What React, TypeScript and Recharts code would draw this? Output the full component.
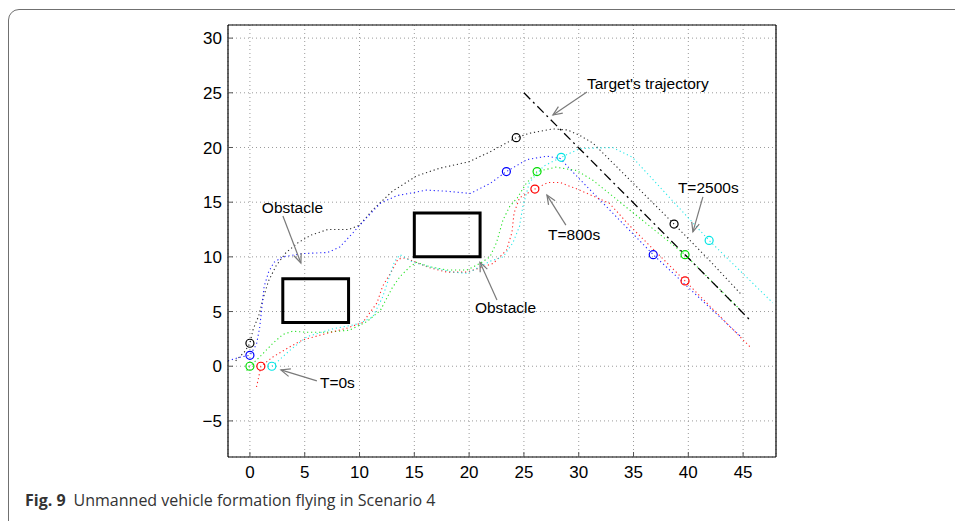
import {
  ComposedChart, Line, Scatter, XAxis, YAxis, CartesianGrid,
  ReferenceArea, ReferenceLine,
} from 'recharts';

type Pt = [number, number];

const X_TICKS = [0, 5, 10, 15, 20, 25, 30, 35, 40, 45];
const Y_TICKS = [-5, 0, 5, 10, 15, 20, 25, 30];

// agent trajectories
const BLACK_PATH: Pt[] = [
  [-1.3, 0.5], [-0.5, 1.3], [0, 2.1], [0.3, 3.4], [0.8, 4.6], [1.2, 6.2], [1.7, 7.8],
  [2.4, 9.2], [3.3, 10.4], [4.4, 11.3], [5.6, 12.0], [7.1, 12.5], [9.0, 12.5], [10.0, 12.9],
  [11.2, 14.3], [13.0, 16.0], [15.2, 17.4], [17.3, 18.1], [20.0, 18.7], [21.9, 19.6],
  [24.3, 20.9], [25.5, 21.3], [27.6, 21.7], [29.0, 21.6], [30.1, 21.1], [31.3, 20.4],
  [32.6, 19.1], [33.8, 17.9], [35.0, 16.7], [38.7, 13.0], [42.0, 9.6], [44.8, 6.6],
];
const BLUE_PATH: Pt[] = [
  [-2.0, 0.5], [-1.0, 0.8], [0, 1.0], [0.6, 2.0], [0.9, 3.6], [1.1, 5.5], [1.3, 7.3],
  [1.7, 8.6], [2.2, 9.5], [3.0, 10.0], [4.8, 10.3], [7.1, 10.4], [8.2, 10.9], [9.4, 12.2],
  [10.3, 13.2], [11.9, 14.9], [13.4, 15.6], [16.1, 16.1], [18.0, 16.0], [20.1, 15.8],
  [21.9, 16.7], [23.4, 17.8], [25.3, 18.9], [27.1, 19.2], [28.3, 19.0], [29.8, 17.4],
  [36.8, 10.2], [44.9, 2.6],
];
const GREEN_PATH: Pt[] = [
  [-0.3, -0.4], [0, 0], [0.9, 0.85], [2.1, 2.1], [3.0, 2.9], [3.9, 3.2], [5.2, 3.1],
  [7.0, 3.1], [9.1, 3.3], [10.7, 4.1], [11.9, 5.1], [13.0, 7.2], [13.7, 8.2], [14.6, 9.1],
  [15.2, 9.5], [16.4, 9.1], [18.0, 8.8], [19.8, 8.8], [21.0, 9.4], [21.9, 10.0], [22.5, 11.3],
  [23.1, 13.4], [23.7, 14.6], [24.4, 15.4], [25.2, 16.7], [26.2, 17.8], [27.9, 18.2],
  [29.8, 17.9], [31.3, 17.0], [39.7, 10.2], [44.5, 5.4],
];
const RED_PATH: Pt[] = [
  [0.6, -1.9], [0.8, -1.0], [1.0, 0], [2.1, 0.85], [3.6, 1.75], [4.8, 2.4], [7.0, 3.0],
  [8.9, 3.5], [10.3, 4.0], [11.6, 5.8], [12.1, 7.3], [13.0, 8.8], [13.5, 9.8], [14.2, 9.9],
  [14.9, 9.6], [16.4, 9.0], [18.0, 8.6], [19.8, 8.6], [21.0, 9.0], [22.2, 9.4], [23.4, 10.6],
  [23.9, 12.2], [24.1, 14.0], [24.6, 15.4], [26.0, 16.2], [27.2, 16.8], [28.3, 16.8],
  [30.1, 16.1], [32.8, 14.9], [34.6, 12.9], [39.7, 7.8], [45.6, 1.8],
];
const CYAN_PATH: Pt[] = [
  [2.0, 0], [2.6, 0.5], [3.7, 1.5], [5.2, 2.7], [7.5, 3.4], [10.0, 3.9], [11.2, 4.5],
  [12.1, 6.3], [12.8, 8.4], [13.2, 9.6], [13.7, 10.2], [14.9, 9.5], [16.7, 9.0], [18.5, 8.6],
  [19.8, 8.5], [21.0, 9.1], [21.9, 9.6], [23.1, 10.0], [24.0, 11.3], [24.6, 12.8], [24.9, 14.6],
  [25.5, 16.8], [26.8, 18.3], [28.4, 19.1], [30.1, 19.9], [33.1, 20.0], [34.9, 19.1],
  [41.9, 11.5], [47.7, 5.8],
];

// positions at T=0s, T=800s, T=2500s
const BLACK_MARKS: Pt[] = [[0, 2.1], [24.3, 20.9], [38.7, 13.0]];
const BLUE_MARKS: Pt[] = [[0, 1.0], [23.4, 17.8], [36.8, 10.2]];
const GREEN_MARKS: Pt[] = [[0, 0], [26.2, 17.8], [39.7, 10.2]];
const RED_MARKS: Pt[] = [[1, 0], [26.0, 16.2], [39.7, 7.8]];
const CYAN_MARKS: Pt[] = [[2, 0], [28.4, 19.1], [41.9, 11.5]];

const OBSTACLES = [
  { x1: 3, x2: 9, y1: 4, y2: 8 },
  { x1: 15, x2: 21, y1: 10, y2: 14 },
];
const TARGET: Pt[] = [[25, 25], [45.6, 4.25]];

const NOTE_TEXT = ["Target's trajectory", 'T=2500s', 'T=800s', 'Obstacle', 'Obstacle', 'T=0s'];
const NOTE_AT: Pt[] = [[30.75, 25.35], [39.05, 15.85], [27.2, 11.5], [1.09, 14.02], [20.53, 4.87], [6.39, -1.98]];
const NOTE_TAIL: Pt[] = [[30.75, 25.07], [41.33, 15.49], [28.83, 12.9], [3.01, 13.73], [22.54, 6.06], [6.11, -1.34]];
const NOTE_HEAD: Pt[] = [[27.65, 22.97], [40.42, 12.29], [27.1, 15.65], [4.65, 9.44], [20.99, 9.5], [2.83, -0.34]];

const AGENTS = [
  { name: 'black', color: '#000000', path: BLACK_PATH, marks: BLACK_MARKS },
  { name: 'blue', color: '#0000ff', path: BLUE_PATH, marks: BLUE_MARKS },
  { name: 'green', color: '#00dd00', path: GREEN_PATH, marks: GREEN_MARKS },
  { name: 'red', color: '#ff0000', path: RED_PATH, marks: RED_MARKS },
  { name: 'cyan', color: '#00e5e5', path: CYAN_PATH, marks: CYAN_MARKS },
];

const rows = (pts: Pt[]) => pts.map(([x, y]) => ({ x, y }));
const notes = NOTE_TEXT.map((text, i) => ({ x: NOTE_AT[i][0], y: NOTE_AT[i][1], text }));

const FONT = '"Liberation Sans", Arial, Helvetica, sans-serif';

const Arrow = (p: any) => {
  const { x1, y1, x2, y2 } = p;
  const a = Math.atan2(y2 - y1, x2 - x1);
  const len = 10, spread = 0.4;
  const l = [x2 - len * Math.cos(a - spread), y2 - len * Math.sin(a - spread)];
  const r = [x2 - len * Math.cos(a + spread), y2 - len * Math.sin(a + spread)];
  return (
    <g stroke="#7a7a7a" strokeWidth={1.2} fill="none">
      <line x1={x1} y1={y1} x2={x2} y2={y2} />
      <polyline points={`${l[0]},${l[1]} ${x2},${y2} ${r[0]},${r[1]}`} />
    </g>
  );
};

const fmt = (v: number) => (v < 0 ? `\u2212${Math.abs(v)}` : `${v}`);

export default function App() {
  return (
    <div style={{ position: 'absolute', left: 0, top: 0, width: 955, height: 521, background: '#fff', overflow: 'hidden' }}>
      <div style={{
        position: 'absolute', left: 8, top: 9, width: 1000, height: 540,
        border: '1.5px solid #707070', borderRadius: 11, boxSizing: 'border-box',
      }} />
      <div style={{ position: 'absolute', left: 0, top: 0 }}>
        <ComposedChart width={955} height={521} margin={{ top: 24, right: 178, bottom: 34, left: 188 }}>
          <CartesianGrid stroke="#9a9a9a" strokeDasharray="1 3" />
          <XAxis
            xAxisId={0} dataKey="x" type="number" domain={[-2, 48]} allowDataOverflow
            ticks={X_TICKS} interval={0} height={30} tickSize={-5} tickMargin={14}
            axisLine={{ stroke: '#000', strokeWidth: 1.2 }} tickLine={{ stroke: '#555' }}
            tick={{ fill: '#000', fontSize: 17, fontFamily: FONT }} tickFormatter={fmt}
          />
          <XAxis
            xAxisId="top" orientation="top" dataKey="x" type="number" domain={[-2, 48]} allowDataOverflow
            ticks={X_TICKS} interval={0} height={1} tickSize={-5} tick={false}
            axisLine={{ stroke: '#000', strokeWidth: 1.2 }} tickLine={{ stroke: '#555' }}
          />
          <YAxis
            yAxisId={0} dataKey="y" type="number" domain={[-8.3, 31.2]} allowDataOverflow
            ticks={Y_TICKS} interval={0} width={40} tickSize={-5} tickMargin={11}
            axisLine={{ stroke: '#000', strokeWidth: 1.2 }} tickLine={{ stroke: '#555' }}
            tick={{ fill: '#000', fontSize: 17, fontFamily: FONT }} tickFormatter={fmt}
          />
          <YAxis
            yAxisId="right" orientation="right" dataKey="y" type="number" domain={[-8.3, 31.2]} allowDataOverflow
            ticks={Y_TICKS} interval={0} width={1} tickSize={-5} tick={false}
            axisLine={{ stroke: '#000', strokeWidth: 1.2 }} tickLine={{ stroke: '#555' }}
          />

          {OBSTACLES.map((o, i) => (
            <ReferenceArea key={`obs${i}`} x1={o.x1} x2={o.x2} y1={o.y1} y2={o.y2}
              fill="none" fillOpacity={0} stroke="#000" strokeWidth={3} />
          ))}

          {AGENTS.map((a) => (
            <Line key={`path-${a.name}`} data={rows(a.path)} dataKey="y" type="linear"
              stroke={a.color} strokeWidth={1.1} strokeOpacity={0.85} strokeDasharray="1.2 2.8" dot={false}
              activeDot={false} isAnimationActive={false} />
          ))}

          <ReferenceLine
            segment={[{ x: TARGET[0][0], y: TARGET[0][1] }, { x: TARGET[1][0], y: TARGET[1][1] }]}
            stroke="#000" strokeWidth={1.3} strokeDasharray="9 4 2 4"
          />

          {AGENTS.map((a) => (
            <Scatter key={`mark-${a.name}`} data={rows(a.marks)} isAnimationActive={false}
              shape={(p: any) => (
                <circle cx={p.cx} cy={p.cy} r={4} fill="none" stroke={a.color} strokeWidth={1.2} />
              )} />
          ))}

          {NOTE_TEXT.map((t, i) => (
            <ReferenceLine key={`arrow${i}`}
              segment={[{ x: NOTE_TAIL[i][0], y: NOTE_TAIL[i][1] }, { x: NOTE_HEAD[i][0], y: NOTE_HEAD[i][1] }]}
              shape={Arrow} />
          ))}

          <Scatter data={notes} isAnimationActive={false}
            shape={(p: any) => (
              <text x={p.cx} y={p.cy} fontSize={15.5} fontFamily={FONT} fill="#000">{p.payload.text}</text>
            )} />
        </ComposedChart>
      </div>
      <div style={{
        position: 'absolute', left: 25, top: 489, fontFamily: '"Open Sans", sans-serif',
        fontSize: 16, lineHeight: '22px', color: '#333', whiteSpace: 'nowrap',
      }}>
        <b>Fig. 9</b><span style={{ marginLeft: 8 }}>Unmanned vehicle formation flying in Scenario 4</span>
      </div>
    </div>
  );
}
